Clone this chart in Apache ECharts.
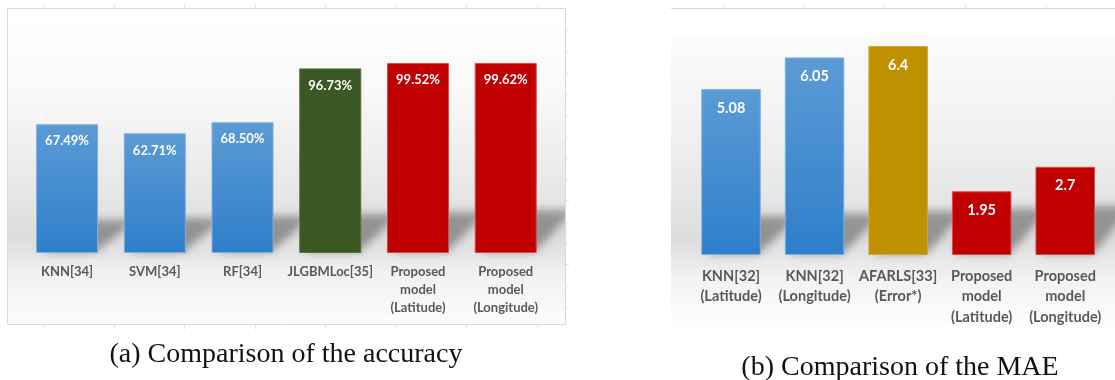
<!DOCTYPE html>
<html>
<head>
<meta charset="utf-8">
<script src="https://cdn.jsdelivr.net/npm/echarts@6/dist/echarts.min.js"></script>
<style>
  html, body { margin: 0; padding: 0; background: #ffffff; }
  #chart { width: 1115px; height: 380px; }
</style>
</head>
<body>
<div id="chart"></div>
<script>
// (a) accuracy comparison
const accCategories = ['KNN[34]', 'SVM[34]', 'RF[34]', 'JLGBMLoc[35]',
  'Proposed\nmodel\n(Latitude)', 'Proposed\nmodel\n(Longitude)'];
const accValues = [67.49, 62.71, 68.50, 96.73, 99.52, 99.62];
const accColorKeys = ['blue', 'blue', 'blue', 'green', 'red', 'red'];

// (b) MAE comparison
const maeCategories = ['KNN[32]\n(Latitude)', 'KNN[32]\n(Longitude)', 'AFARLS[33]\n(Error*)',
  'Proposed\nmodel\n(Latitude)', 'Proposed\nmodel\n(Longitude)'];
const maeValues = [5.08, 6.05, 6.4, 1.95, 2.7];
const maeColorKeys = ['blue', 'blue', 'gold', 'red', 'red'];

const captions = ['(a) Comparison of the accuracy', '(b) Comparison of the MAE'];

const palette = {
  blue:  { fill: { type: 'linear', x: 0, y: 0, x2: 0, y2: 1,
                   colorStops: [{ offset: 0, color: '#5b9bd5' }, { offset: 1, color: '#2f7ecb' }] },
           border: '#7db0e0' },
  green: { fill: '#3b5723', border: '#55713c' },
  red:   { fill: '#c00000', border: '#d84a4a' },
  gold:  { fill: '#bf9000', border: '#d3a733' }
};

const LABEL_GRAY = '#595959';
const OFF = 4000; // shapes are drawn off-canvas so only their blurred shadow lands on the plot

function barItems(values, keys) {
  return values.map((v, i) => ({
    value: v,
    itemStyle: { color: palette[keys[i]].fill, borderColor: palette[keys[i]].border, borderWidth: 1 }
  }));
}

// soft floor shadow cast behind each bar, slanting up and to the right
function shadowRenderer(barW, d, h0, dh) {
  return function (params, api) {
    const idx = api.value(0);
    const p = api.coord([idx, 0]);
    const x0 = p[0] - barW / 2 + 4, x1 = p[0] + barW / 2 - 2;
    const base = p[1] - 1;
    const h = h0 + dh * idx;
    return {
      type: 'polygon',
      shape: { points: [[x0 - OFF, base], [x1 - OFF, base], [x1 + d - OFF, base - h], [x0 + d - OFF, base - h]] },
      style: { fill: '#000', shadowBlur: 9, shadowColor: 'rgba(0,0,0,0.34)', shadowOffsetX: OFF, shadowOffsetY: 0 },
      silent: true
    };
  };
}

function panelBackground(x, y, w, h, stops) {
  return {
    type: 'rect', z: -10, silent: true,
    shape: { x: x, y: y, width: w, height: h },
    style: { fill: { type: 'linear', x: 0, y: 0, x2: 0, y2: 1, colorStops: stops } }
  };
}

const graphics = [];
// panel (a) backdrop and frame
graphics.push(panelBackground(7, 8, 559, 317, [
  { offset: 0, color: '#ffffff' },
  { offset: 0.25, color: '#f9f9f9' },
  { offset: 0.42, color: '#f0f0f0' },
  { offset: 0.62, color: '#e4e4e4' },
  { offset: 0.72, color: '#dcdcdc' },
  { offset: 0.78, color: '#e6e6e6' },
  { offset: 0.83, color: '#f0f0f0' },
  { offset: 1, color: '#fdfdfd' }
]));
// blank gutter between the two panels (keeps shadows inside panel a)
graphics.push({
  type: 'rect', z: 5, silent: true,
  shape: { x: 566, y: 0, width: 105, height: 330 },
  style: { fill: '#ffffff' }
});
graphics.push({
  type: 'rect', z: 50, silent: true,
  shape: { x: 7.5, y: 8.5, width: 558, height: 316 },
  style: { fill: null, stroke: '#d9d9d9', lineWidth: 1 }
});
// panel (b) backdrop and top edge
graphics.push(panelBackground(671, 8, 444, 322, [
  { offset: 0, color: '#ffffff' },
  { offset: 0.07, color: '#ffffff' },
  { offset: 0.10, color: '#fbfbfb' },
  { offset: 0.40, color: '#f0f0f0' },
  { offset: 0.60, color: '#e5e5e5' },
  { offset: 0.72, color: '#dcdcdc' },
  { offset: 0.78, color: '#e8e8e8' },
  { offset: 0.84, color: '#f2f2f2' },
  { offset: 1, color: '#ffffff' }
]));
graphics.push({
  type: 'line', z: 50, silent: true,
  shape: { x1: 671, y1: 8.5, x2: 1115, y2: 8.5 },
  style: { stroke: '#d9d9d9', lineWidth: 1 }
});
// faint frame tick marks
const tickColor = '#e0e0e0';
function tick(x1, y1, x2, y2) {
  graphics.push({ type: 'line', z: 50, silent: true, shape: { x1: x1, y1: y1, x2: x2, y2: y2 }, style: { stroke: tickColor, lineWidth: 1 } });
}
for (let k = 0; k < 8; k++) {
  const x = Math.round(43 + 70.5 * k) + 0.5;
  tick(x, 5, x, 8);
  tick(x, 325, x, 329);
}
for (let k = 0; k < 14; k++) {
  const y = Math.round(30 + 21.3 * k) + 0.5;
  tick(566, y, 569, y);
}
for (let k = 0; k < 5; k++) {
  const x = Math.round(723 + 80.7 * k) + 0.5;
  tick(x, 5, x, 8);
}
// captions
graphics.push({
  type: 'text', silent: true, x: 286, y: 355,
  style: { text: captions[0], font: '28px "Liberation Serif"', fill: '#111', textAlign: 'center', textVerticalAlign: 'middle' }
});
graphics.push({
  type: 'text', silent: true, x: 900, y: 368,
  style: { text: captions[1], font: '28px "Liberation Serif"', fill: '#111', textAlign: 'center', textVerticalAlign: 'middle' }
});

const chart = echarts.init(document.getElementById('chart'), null, { renderer: 'canvas' });

const hiddenY = {
  type: 'value', min: 0,
  axisLine: { show: false }, axisTick: { show: false }, axisLabel: { show: false }, splitLine: { show: false }
};

chart.setOption({
  animation: false,
  backgroundColor: '#ffffff',
  grid: [
    { left: 23.2, right: 565.4, top: 24, bottom: 127 },
    { left: 689.25, right: 8, top: 26.4, bottom: 125 }
  ],
  xAxis: [
    {
      type: 'category', gridIndex: 0, data: accCategories,
      axisLine: { show: false }, axisTick: { show: false },
      axisLabel: { interval: 0, margin: 10, color: LABEL_GRAY, fontFamily: 'Lato', fontWeight: 'bold', fontSize: 13, lineHeight: 18 }
    },
    {
      type: 'category', gridIndex: 1, data: maeCategories,
      axisLine: { show: false }, axisTick: { show: false },
      axisLabel: { interval: 0, margin: 11, color: LABEL_GRAY, fontFamily: 'Lato', fontWeight: 'bold', fontSize: 14.5, lineHeight: 20.5 }
    }
  ],
  yAxis: [
    Object.assign({ gridIndex: 0, max: 120 }, hiddenY),
    Object.assign({ gridIndex: 1, max: 7 }, hiddenY)
  ],
  series: [
    {
      type: 'custom', xAxisIndex: 0, yAxisIndex: 0, z: 1, silent: true,
      data: accValues.map((v, i) => [i, v]),
      renderItem: shadowRenderer(62, 40, 32, 2)
    },
    {
      type: 'custom', xAxisIndex: 1, yAxisIndex: 1, z: 1, silent: true,
      data: maeValues.map((v, i) => [i, v]),
      renderItem: shadowRenderer(59.5, 40, 38, 2.5)
    },
    {
      type: 'bar', xAxisIndex: 0, yAxisIndex: 0, z: 2, barWidth: 62,
      data: barItems(accValues, accColorKeys),
      label: {
        show: true, position: 'insideTop', distance: 9,
        color: '#ffffff', fontFamily: 'Lato', fontWeight: 'bold', fontSize: 13, lineHeight: 16,
        formatter: p => p.value.toFixed(2) + '%'
      }
    },
    {
      type: 'bar', xAxisIndex: 1, yAxisIndex: 1, z: 2, barWidth: 59.5,
      data: barItems(maeValues, maeColorKeys),
      label: {
        show: true, position: 'insideTop', distance: 10,
        color: '#ffffff', fontFamily: 'Lato', fontWeight: 'bold', fontSize: 14.5, lineHeight: 18,
        formatter: p => String(p.value)
      }
    }
  ],
  graphic: { elements: graphics }
});
</script>
</body>
</html>
